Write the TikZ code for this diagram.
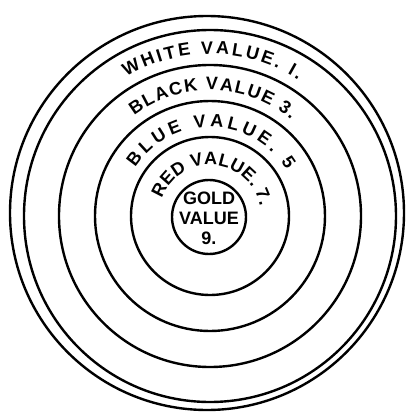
\documentclass[tikz,border=0pt]{standalone}
\usepackage{fontspec}
\setmainfont{Liberation Sans}
\usetikzlibrary{decorations.text}
\newcommand\ringfont{\bfseries\fontsize{9}{10}\selectfont}

\begin{document}
\begin{tikzpicture}[x=0.5pt, y=0.5pt,
    ring/.style={draw, line width=1.2pt},
    band/.style={decorate, decoration={text along path,
        text align=fit to path, text={|\ringfont|#1}}}]
    \useasboundingbox (-210,-197) rectangle (200,216);
    \clip (-210,-197) rectangle (200,216);
    % rings
    \draw[ring] (-3,3) circle[radius=197];
    \foreach \r in {186,151,115,79}
        \draw[ring] (0,0) circle[radius=\r];
    \draw[ring] (-1,-1) circle[radius=37];
    % labels
    \path[band={WHITE VALUE. I.}] (121:162) arc[start angle=121, end angle=57, radius=162];
    \path[band={BLACK VALUE 3.}] (127:126) arc[start angle=127, end angle=50, radius=126];
    \path[band={BLUE VALUE. 5}] (147:89) arc[start angle=147, end angle=31, radius=89];
    \path[band={RED VALUE. 7.}] (160:51) arc[start angle=160, end angle=11, radius=51];
    \node[align=center, font=\ringfont, inner sep=0pt] (gold) at (-1,-2) {GOLD\\VALUE\\9.};
\end{tikzpicture}
\end{document}
